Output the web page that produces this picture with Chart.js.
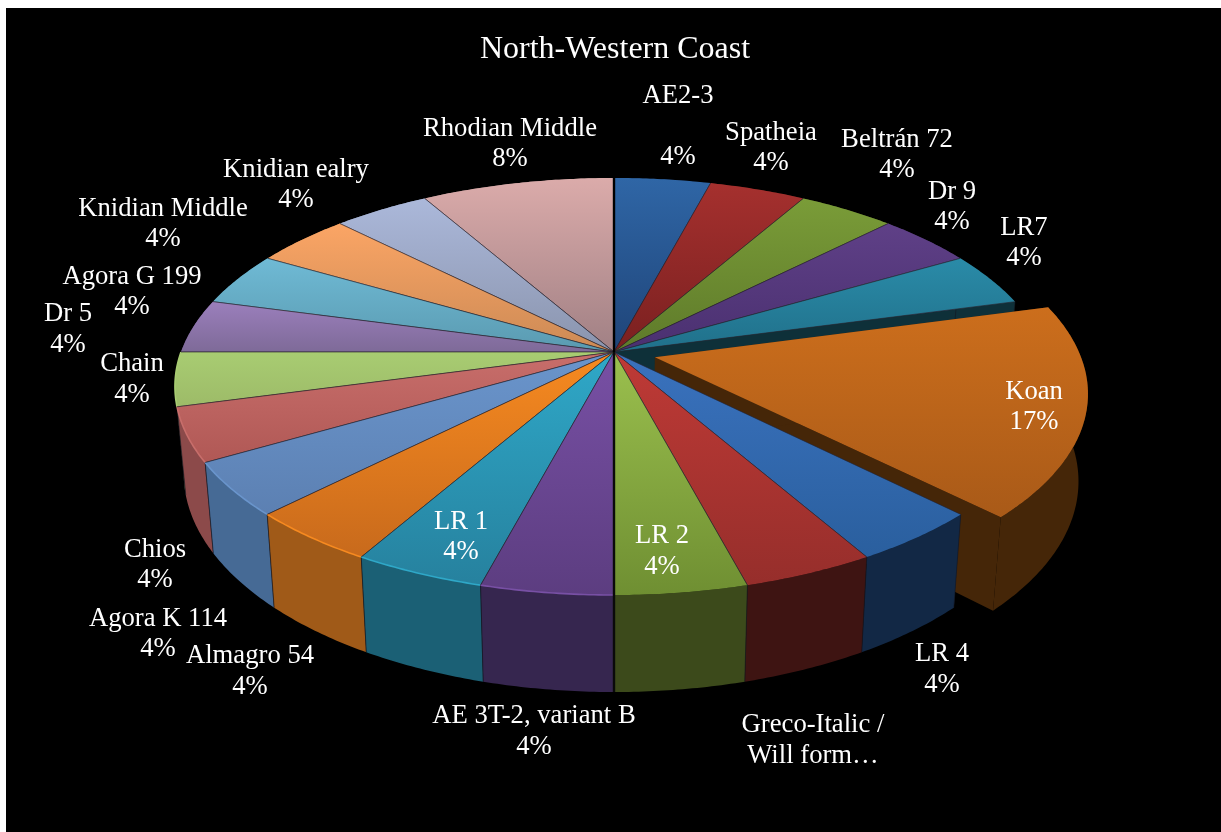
<!DOCTYPE html>
<html>
<head>
<meta charset="utf-8">
<title>North-Western Coast</title>
<style>
  html, body { margin: 0; background: #fff; overflow: hidden; }
  canvas { position: absolute; left: 6px; top: 8px; background: #000; }
</style>
</head>
<body>
<canvas id="chart" width="1218" height="824"></canvas>
<script src="https://cdn.jsdelivr.net/npm/chart.js@4"></script>
<script>
const categories = ['AE2-3', 'Spatheia', 'Beltrán 72', 'Dr 9', 'LR7', 'Koan', 'LR 4', 'Greco-Italic / Will form…', 'LR 2',
  'AE 3T-2, variant B', 'LR 1', 'Almagro 54', 'Agora K 114', 'Chios', 'Chain', 'Dr 5', 'Agora G 199', 'Knidian Middle',
  'Knidian ealry', 'Rhodian Middle'];
const counts = [1, 1, 1, 1, 1, 4, 1, 1, 1, 1, 1, 1, 1, 1, 1, 1, 1, 1, 1, 2];
const explode = [0, 0, 0, 0, 0, 35, 0, 0, 0, 0, 0, 0, 0, 0, 0, 0, 0, 0, 0, 0];

// top face goes from the first colour (upper end) to the second (lower end)
const topColors = ['#2f66a6', '#a5302e', '#7a9c38', '#5f4087', '#2a8ba8', '#cc6e1c', '#3a72be', '#bf3a36', '#9bc04e', '#7850a5',
  '#2fa8c8', '#f78a20', '#6a95cc', '#c86e6b', '#a8cc72', '#9b7fbc', '#6fbad5', '#fba565', '#abb8da', '#dbabaa'];
const lowColors = ['#1f4478', '#7a2020', '#5e7a2a', '#4a3070', '#20708a', '#a95a18', '#2a5f9e', '#962e2b', '#6f8f32', '#5c3d80',
  '#26819e', '#c86a1c', '#5c80b2', '#b05855', '#9dbb68', '#7e6a98', '#5a9ab0', '#cc8a55', '#8a94ad', '#a08084'];
const sideColors = ['#132a4a', '#3e1410', '#3c4a1b', '#36264f', '#0e3039', '#452608', '#122845', '#3e1412', '#3c4a1b', '#36264f',
  '#1b6075', '#a05a18', '#466a95', '#8c4a4a', '#7e9455', '#5e4a78', '#3e7a90', '#b07038', '#7a88a8', '#a08080'];

// label centres, page pixels: x, y of first line, y of second line
const labelSpots = [[678, 96, 157], [771, 133, 163], [897, 140, 170], [952, 192, 222], [1024, 228, 258], [1034, 392, 422],
  [942, 654, 685], [813, 725, 756], [662, 536, 567], [534, 716, 747], [461, 522, 552], [250, 656, 687], [158, 619, 649],
  [155, 550, 580], [132, 364, 395], [68, 314, 345], [132, 277, 307], [163, 209, 239], [296, 170, 200], [510, 129, 159]];

// perspective of the tilted pie, fitted to the picture
const view = { x: 614, y: 352, a: 433, b: 202.8, p: -0.1655, depth: 97, squeeze: 0.98, pulledRadius: 0.98 };

function project(u, v) {
  const w = 1 + view.p * v;
  return [view.x + view.a * u / w, view.y + view.b * v / w];
}

function drop(pt, v) {
  const w = 1 + view.p * v;
  return [view.x + (pt[0] - view.x) * view.squeeze, pt[1] + view.depth * Math.pow(0.8345 / w, 0.7)];
}

function fillPoly(ctx, pts, fill) {
  ctx.beginPath();
  pts.forEach((p, i) => i ? ctx.lineTo(p[0], p[1]) : ctx.moveTo(p[0], p[1]));
  ctx.closePath();
  ctx.fillStyle = fill;
  ctx.fill();
}

function strokeLine(ctx, pts, color, width) {
  ctx.beginPath();
  pts.forEach((p, i) => i ? ctx.lineTo(p[0], p[1]) : ctx.moveTo(p[0], p[1]));
  ctx.strokeStyle = color;
  ctx.lineWidth = width;
  ctx.stroke();
}

// takes the arc elements Chart.js laid out and paints them as a thick tilted pie
const pie3d = {
  id: 'pie3d',
  beforeDatasetsDraw(chart) {
    const ctx = chart.ctx;
    const arcs = chart.getDatasetMeta(0).data;
    const slices = arcs.map((arc, i) => {
      const mid = (arc.startAngle + arc.endAngle) / 2;
      const shift = (arc.options.offset || 0) / arc.outerRadius;
      const radius = shift ? view.pulledRadius : 1;
      const ox = Math.cos(mid) * shift;
      const oy = Math.sin(mid) * shift;
      const rim = [];
      const steps = Math.ceil((arc.endAngle - arc.startAngle) / 0.01);
      for (let s = 0; s <= steps; s++) {
        const t = arc.startAngle + (arc.endAngle - arc.startAngle) * s / steps;
        const v = Math.sin(t) * radius + oy;
        const pt = project(Math.cos(t) * radius + ox, v);
        rim.push({ pt, low: drop(pt, v), v });
      }
      return { i, ox, oy, mid, rim, tip: project(ox, oy), tipLow: drop(project(ox, oy), oy), depth: Math.sin(mid) };
    });

    ctx.save();
    ctx.translate(-6, -8);
    ctx.lineJoin = 'round';
    slices.slice().sort((a, b) => a.depth - b.depth).forEach(s => {
      const i = s.i;
      const n = categories.length;
      const first = s.rim[0];
      const last = s.rim[s.rim.length - 1];
      // cut faces only show next to the pulled out slice
      if (explode[i] || explode[(i + 1) % n]) {
        fillPoly(ctx, [s.tip, last.pt, last.low, s.tipLow], sideColors[i]);
      }
      if (explode[i] || explode[(i + n - 1) % n]) {
        fillPoly(ctx, [s.tip, first.pt, first.low, s.tipLow], sideColors[i]);
      }
      const wall = s.rim.map(r => r.pt).concat(s.rim.map(r => r.low).reverse());
      fillPoly(ctx, wall, sideColors[i]);
      if (!explode[i]) {
        strokeLine(ctx, [first.pt, first.low], 'rgba(20,20,30,0.55)', 1);
        strokeLine(ctx, [last.pt, last.low], 'rgba(20,20,30,0.55)', 1);
      }

      const face = [s.tip].concat(s.rim.map(r => r.pt));
      const ys = face.map(p => p[1]);
      const grad = ctx.createLinearGradient(0, Math.min.apply(null, ys), 0, Math.max.apply(null, ys));
      grad.addColorStop(0, topColors[i]);
      grad.addColorStop(1, lowColors[i]);
      fillPoly(ctx, face, grad);

      // light edge along the front of the top face, left part only
      if (Math.sin(s.mid) > 0.1 && Math.cos(s.mid) < -0.1) {
        strokeLine(ctx, s.rim.map(r => r.pt), topColors[i], 1.6);
      }
      if (!explode[i]) {
        strokeLine(ctx, [s.tip, first.pt], 'rgba(40,35,45,0.6)', 1);
        strokeLine(ctx, [s.tip, last.pt], 'rgba(40,35,45,0.6)', 1);
      }
    });

    // the two vertical cuts read as a black gap
    const back = project(0, -1);
    const front = project(0, 1);
    strokeLine(ctx, [back, [front[0], view.y]], '#000', 2.4);
    strokeLine(ctx, [[front[0], view.y], front, drop(front, 1)], '#0a0a0a', 2.4);

    // data labels
    const total = counts.reduce((a, b) => a + b, 0);
    ctx.font = '26.67px "Liberation Serif"';
    ctx.fillStyle = '#fff';
    ctx.textAlign = 'center';
    ctx.textBaseline = 'middle';
    categories.forEach((name, i) => {
      const spot = labelSpots[i];
      const pct = Math.round(counts[i] / total * 100) + '%';
      const cut = name.indexOf('/ ');
      const lines = cut > 0 ? [name.slice(0, cut + 1), name.slice(cut + 2)] : [name, pct];
      ctx.fillText(lines[0], spot[0], spot[1]);
      ctx.fillText(lines[1], spot[0], spot[2]);
    });
    ctx.restore();
    return false;
  }
};

const chart = new Chart(document.getElementById('chart').getContext('2d'), {
  type: 'pie',
  data: {
    labels: categories,
    datasets: [{
      data: counts,
      backgroundColor: topColors,
      borderWidth: 0,
      offset: explode
    }]
  },
  options: {
    responsive: false,
    animation: false,
    plugins: {
      legend: { display: false },
      tooltip: { enabled: false },
      title: {
        display: true,
        text: 'North-Western Coast',
        color: '#fff',
        font: { family: '"Liberation Serif"', size: 32, weight: 'normal' },
        padding: { top: 22, bottom: 10 }
      }
    }
  },
  plugins: [pie3d]
});
</script>
</body>
</html>
